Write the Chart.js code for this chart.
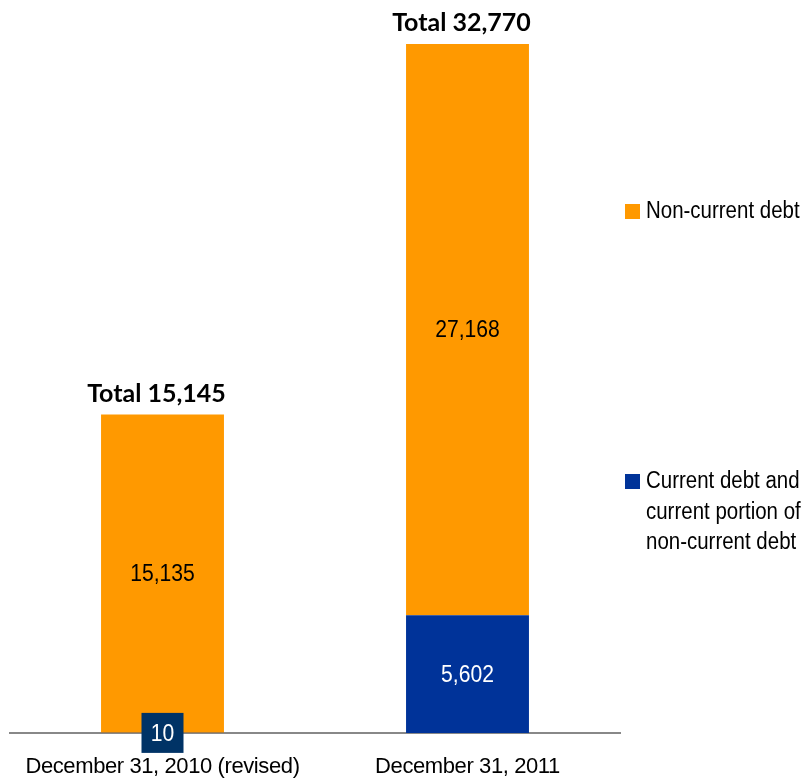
<!DOCTYPE html>
<html>
<head>
<meta charset="utf-8">
<script src="https://cdn.jsdelivr.net/npm/chart.js@4/dist/chart.umd.min.js"></script>
<style>
  html, body { margin: 0; padding: 0; background: #ffffff; }
  #wrap { width: 812px; height: 780px; }
</style>
</head>
<body>
<div id="wrap"><canvas id="debtChart" width="812" height="780"></canvas></div>
<script>
// Debt composition at two balance-sheet dates
const categories = ['December 31, 2010 (revised)', 'December 31, 2011'];
const currentDebt = [10, 5602];
const nonCurrentDebt = [15135, 27168];
const seriesNames = ['Current debt and current portion of non-current debt', 'Non-current debt'];
const legendLines = [
  ['Non-current debt'],
  ['Current debt and', 'current portion of', 'non-current debt']
];

const ORANGE = '#FF9900';
const BLUE = '#003399';
const NAVY = '#003366';

const totals = categories.map((_, i) => currentDebt[i] + nonCurrentDebt[i]);
const fmt = v => v.toLocaleString('en-US');

function condensedText(ctx, text, x, y, sx) {
  ctx.save();
  ctx.translate(x, y);
  ctx.scale(sx, 1);
  ctx.fillText(text, 0, 0);
  ctx.restore();
}

const debtLabels = {
  id: 'debtLabels',
  beforeDraw(chart) {
    chart.ctx.letterSpacing = '-0.4px';
  },
  afterDatasetsDraw(chart) {
    const ctx = chart.ctx;
    ctx.save();
    ctx.letterSpacing = '0px';
    ctx.textAlign = 'center';
    ctx.textBaseline = 'middle';
    ctx.font = '24px "Liberation Sans", Arial, sans-serif';

    // values inside each segment
    chart.data.datasets.forEach((ds, di) => {
      const meta = chart.getDatasetMeta(di);
      meta.data.forEach((bar, i) => {
        const v = ds.data[i];
        const cx = bar.x;
        const cy = (bar.y + bar.base) / 2;
        const h = Math.abs(bar.base - bar.y);
        if (h < 30) {
          ctx.fillStyle = NAVY;
          ctx.fillRect(cx - 21, cy - 20, 42, 40);
          ctx.fillStyle = '#ffffff';
        } else {
          ctx.fillStyle = ds.labelColor;
        }
        condensedText(ctx, fmt(v), cx, cy + 1, 0.88);
      });
    });

    // totals above each stack
    const topMeta = chart.getDatasetMeta(chart.data.datasets.length - 1);
    ctx.fillStyle = '#000000';
    ctx.font = 'bold 25px Lato, "Open Sans", sans-serif';
    ctx.textBaseline = 'alphabetic';
    topMeta.data.forEach((bar, i) => {
      ctx.fillText('Total ' + fmt(totals[i]), bar.x - 6, bar.y - 13);
    });

    // legend on the right
    const lx = chart.chartArea.right + 5;
    const legendY = [218, 488];
    const legendDs = [1, 0];
    ctx.font = '23px "Liberation Sans", Arial, sans-serif';
    ctx.textAlign = 'left';
    legendDs.forEach((di, k) => {
      const ds = chart.data.datasets[di];
      const base = legendY[k];
      ctx.fillStyle = ds.backgroundColor;
      ctx.fillRect(lx, base - 14, 15, 15);
      ctx.fillStyle = '#000000';
      legendLines[k].forEach((line, j) => {
        condensedText(ctx, line, lx + 21, base + j * 30.5, 0.89);
      });
    });
    ctx.restore();
  }
};

new Chart(document.getElementById('debtChart'), {
  type: 'bar',
  data: {
    labels: categories,
    datasets: [
      { label: seriesNames[0], data: currentDebt, backgroundColor: BLUE, labelColor: '#ffffff' },
      { label: seriesNames[1], data: nonCurrentDebt, backgroundColor: ORANGE, labelColor: '#000000' }
    ]
  },
  options: {
    responsive: false,
    animation: false,
    devicePixelRatio: 1,
    layout: { padding: { top: 44, left: 10, right: 192, bottom: 0 } },
    datasets: { bar: { categoryPercentage: 1, barPercentage: 0.403 } },
    plugins: { legend: { display: false }, tooltip: { enabled: false } },
    scales: {
      x: {
        stacked: true,
        grid: { display: false, drawTicks: false },
        border: { display: true, color: '#888888', width: 2 },
        afterFit(scale) {
          scale.height = 47;
          scale.paddingLeft = 0;
          scale.paddingRight = 0;
        },
        ticks: {
          color: '#000000',
          padding: 21,
          maxRotation: 0,
          autoSkip: false,
          font: { family: '"Liberation Sans", Arial, sans-serif', size: 22 }
        }
      },
      y: {
        stacked: true,
        display: false,
        min: 0,
        max: Math.max(...totals)
      }
    }
  },
  plugins: [debtLabels]
});
</script>
</body>
</html>
